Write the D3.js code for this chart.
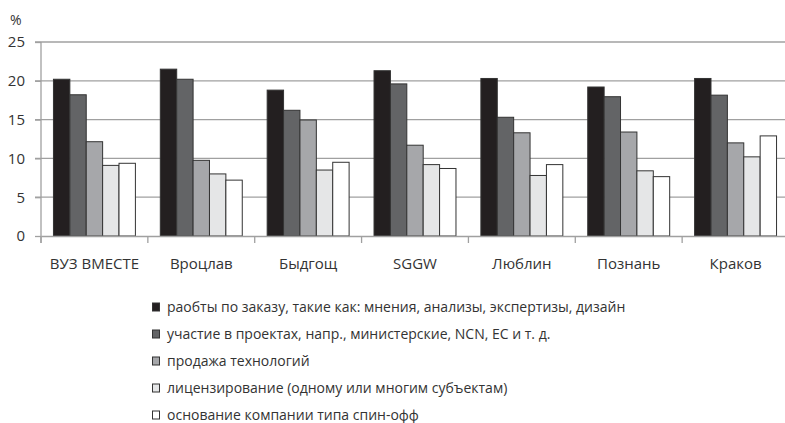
<!DOCTYPE html>
<html><head><meta charset="utf-8">
<script src="https://cdn.jsdelivr.net/npm/d3@7"></script>
<style>body{margin:0;background:#fff}svg{display:block}</style>
</head><body>
<svg id="c" width="785" height="423"></svg>
<script>
const categories = ["ВУЗ ВМЕСТЕ","Вроцлав","Быдгощ","SGGW","Люблин","Познань","Краков"];
const seriesNames = [
  "раобты по заказу, такие как: мнения, анализы, экспертизы, дизайн",
  "участие в проектах, напр., министерские, NCN, ЕС и т. д.",
  "продажа технологий",
  "лицензирование (одному или многим субъектам)",
  "основание компании типа спин-офф"
];
const s1 = [20.2, 21.5, 18.8, 21.3, 20.3, 19.2, 20.3];
const s2 = [18.2, 20.2, 16.2, 19.6, 15.3, 17.95, 18.15];
const s3 = [12.15, 9.75, 14.95, 11.7, 13.3, 13.4, 12.0];
const s4 = [9.1, 8.0, 8.5, 9.2, 7.8, 8.4, 10.2];
const s5 = [9.37, 7.2, 9.5, 8.7, 9.2, 7.65, 12.9];
const yTicks = [0, 5, 10, 15, 20, 25];
const colors = ["#231f20","#636466","#a6a7aa","#e5e6e7","#ffffff"];
const series = [s1,s2,s3,s4,s5];

const svg = d3.select("#c");
const font = "'Open Sans', sans-serif";
const L = 41, R = 789, T = 42, B = 236;
const x = d3.scaleBand().domain(categories).range([L, R]).paddingInner(0).paddingOuter(0);
const y = d3.scaleLinear().domain([0, 25]).range([B, T]);
const xs = d3.scaleBand().domain(d3.range(5)).range([0, x.bandwidth()]).paddingInner(0).paddingOuter(0.76);

// gridlines
svg.append("g").selectAll("line").data(yTicks.filter(d => d > 0)).join("line")
  .attr("x1", L - 6).attr("x2", R).attr("y1", d => y(d)).attr("y2", d => y(d))
  .attr("stroke", "#a0a0a0").attr("stroke-width", 1.3);

// y axis
const yAxis = svg.append("g").attr("transform", `translate(${L},0)`)
  .call(d3.axisLeft(y).tickValues(yTicks).tickSize(6).tickPadding(10));
yAxis.select(".domain").remove();
yAxis.selectAll(".tick line").attr("stroke", "#a0a0a0").attr("stroke-width", 1.3);
yAxis.selectAll(".tick text").attr("font-family", font).attr("font-size", 15).attr("fill", "#333");
svg.append("line").attr("x1", L).attr("x2", L).attr("y1", T).attr("y2", B + 7)
  .attr("stroke", "#a0a0a0").attr("stroke-width", 1.3);

svg.append("text").attr("x", 10).attr("y", 25).attr("font-family", font).attr("font-size", 14)
  .attr("fill", "#333").text("%");

// bars
const g = svg.append("g");
categories.forEach((c, i) => {
  series.forEach((s, k) => {
    g.append("rect")
      .attr("x", x(c) + xs(k)).attr("width", xs.bandwidth())
      .attr("y", y(s[i])).attr("height", y(0) - y(s[i]))
      .attr("fill", colors[k]).attr("stroke", "#333").attr("stroke-width", 1);
  });
});

// x axis
const xAxis = svg.append("g").attr("transform", `translate(0,${B})`)
  .call(d3.axisBottom(x).tickSize(0).tickPadding(22));
xAxis.select(".domain").attr("stroke", "#a0a0a0").attr("stroke-width", 1.3);
xAxis.selectAll(".tick text").attr("font-family", font).attr("font-size", 15).attr("fill", "#333");
svg.append("g").selectAll("line").data(categories.map(c => x(c)).concat([R])).join("line")
  .attr("x1", d => d).attr("x2", d => d).attr("y1", B).attr("y2", B + 7)
  .attr("stroke", "#a0a0a0").attr("stroke-width", 1.3);

// legend
const lg = svg.append("g").selectAll("g").data(seriesNames).join("g")
  .attr("transform", (d, i) => `translate(152,${307 + i * 27})`);
lg.append("rect").attr("x", 0.5).attr("y", -4).attr("width", 7).attr("height", 8)
  .attr("fill", (d, i) => colors[i]).attr("stroke", "#333").attr("stroke-width", 1);
lg.append("text").attr("x", 15).attr("y", 0).attr("dy", "0.35em")
  .attr("font-family", font).attr("font-size", 14).attr("fill", "#333").text(d => d);
</script>
</body></html>
